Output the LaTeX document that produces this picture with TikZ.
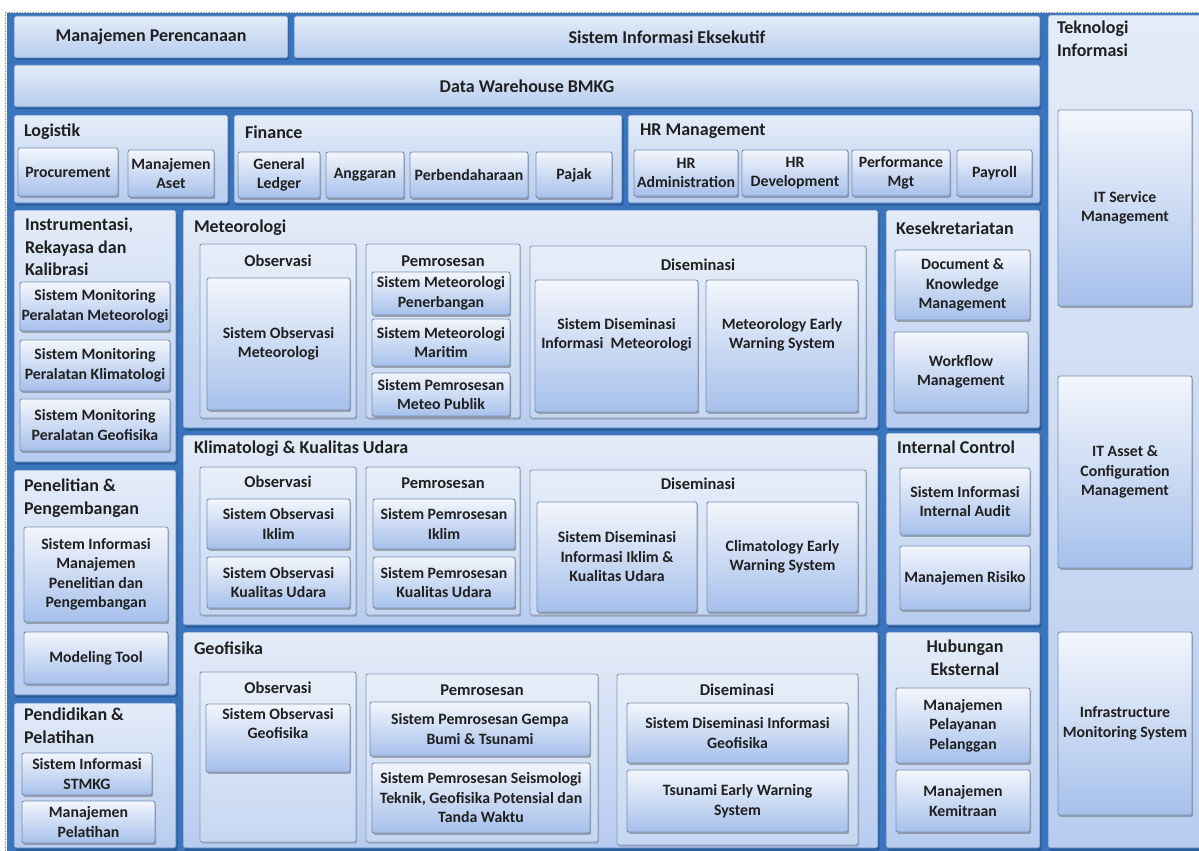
\documentclass[tikz,border=0pt]{standalone}
\usepackage{fontspec}
\setmainfont{Carlito}
\usetikzlibrary{shadows}

\definecolor{frameblue}{HTML}{3A74BD}
\definecolor{shadowblue}{HTML}{22508C}
\definecolor{panelline}{HTML}{4D7DBB}
\definecolor{paneltop}{HTML}{E4ECF8}
\definecolor{panelbot}{HTML}{B7CCEF}
\definecolor{boxline}{HTML}{7990B4}
\definecolor{boxtop}{HTML}{F3F6FC}
\definecolor{boxbot}{HTML}{A6C0EB}
\definecolor{grptop}{HTML}{E7EEF9}
\definecolor{grpbot}{HTML}{C6D7F2}
\definecolor{grpline}{HTML}{8699B8}
\definecolor{txt}{HTML}{202020}

\tikzset{
  base/.style={inner sep=0pt, outer sep=0pt, align=center, text=txt, rounded corners=2pt},
  topbar/.style={base, draw=panelline, line width=0.8pt, top color=paneltop, bottom color=panelbot,
    font=\bfseries\fontsize{18}{22}\selectfont,
    drop shadow={shadow xshift=1.2pt, shadow yshift=-2pt, fill=shadowblue, opacity=.7}},
  panel/.style={base, draw=panelline, line width=0.8pt, top color=paneltop, bottom color=panelbot,
    drop shadow={shadow xshift=1.5pt, shadow yshift=-2.5pt, fill=shadowblue, opacity=.7}},
  grp/.style={base, draw=grpline, line width=0.9pt, top color=grptop, bottom color=grpbot,
    drop shadow={shadow xshift=1pt, shadow yshift=-1.5pt, fill=black!55, opacity=.45}},
  sub/.style={base, draw=boxline, line width=0.9pt, top color=boxtop, bottom color=boxbot,
    font=\bfseries\fontsize{15.8}{19.5}\selectfont,
    drop shadow={shadow xshift=1.2pt, shadow yshift=-1.8pt, fill=black!60, opacity=.5}},
  ttl/.style={inner sep=0pt, outer sep=0pt, text=txt, align=left, font=\bfseries\fontsize{18}{22.5}\selectfont},
  gttl/.style={inner sep=0pt, outer sep=0pt, text=txt, align=center, font=\bfseries\fontsize{16.5}{20}\selectfont},
  stxt/.style={inner sep=0pt, outer sep=0pt, text=txt, align=center, font=\bfseries\fontsize{15.8}{19.5}\selectfont},
}

% box from (x1,y1) to (x2,y2): #1 style, #2 name, #3..#6 corners, #7 text
\newcommand\bx[7]{%
  \node[#1, minimum width={#5-#3}, minimum height={#6-#4}] (#2)
    at ({(#3+#5)/2},{(#4+#6)/2}) {#7};}

\begin{document}
\begin{tikzpicture}[x=1pt,y=-1pt]
\useasboundingbox (0,0) rectangle (1199,851);
\fill[white] (0,0) rectangle (1199,851);
\draw[black!35, densely dotted, line width=0.6pt] (5,851) -- (5,12) -- (1199,12);
\fill[frameblue] (7,13) rectangle (1199,851);

% top rows
\bx{topbar}{mp}{14}{16}{288}{58}{Manajemen Perencanaan}
\bx{topbar}{sie}{294}{16}{1040}{58}{Sistem Informasi Eksekutif}
\bx{topbar}{dw}{14}{65}{1040}{107}{Data Warehouse BMKG}

% domain panels
\bx{panel}{log}{14}{115}{228}{203}{}
\bx{panel}{fin}{234}{115}{622}{203}{}
\bx{panel}{hr}{628}{115}{1040}{203}{}
\bx{panel}{ti}{1048}{15}{1204}{848}{}
\bx{panel}{ins}{14}{210}{176}{462}{}
\bx{panel}{pen}{14}{470}{176}{695}{}
\bx{panel}{pdd}{14}{703}{176}{848}{}
\bx{panel}{met}{183}{210}{878}{428}{}
\bx{panel}{kli}{183}{435}{878}{625}{}
\bx{panel}{geo}{183}{632}{878}{848}{}
\bx{panel}{kes}{886}{210}{1040}{428}{}
\bx{panel}{ic}{886}{433}{1040}{625}{}
\bx{panel}{he}{886}{632}{1040}{848}{}

% panel titles
\node[ttl, anchor=west] (log-t) at (24,132) {Logistik};
\node[ttl, anchor=west] (fin-t) at (245,132) {Finance};
\node[ttl, anchor=west] (hr-t) at (640,131) {HR Management};
\node[ttl, anchor=north west] (ti-t) at (1057,21) {Teknologi\\Informasi};
\node[ttl, anchor=north west] (ins-t) at (25,218) {Instrumentasi,\\Rekayasa dan\\Kalibrasi};
\node[ttl, anchor=north west] (pen-t) at (24,479) {Penelitian \&\\Pengembangan};
\node[ttl, anchor=north west] (pdd-t) at (24,708) {Pendidikan \&\\Pelatihan};
\node[ttl, anchor=west] (met-t) at (194,228) {Meteorologi};
\node[ttl, anchor=west] (kli-t) at (194,449) {Klimatologi \& Kualitas Udara};
\node[ttl, anchor=west] (geo-t) at (194,648) {Geofisika};
\node[ttl, anchor=west] (kes-t) at (896,228) {Kesekretariatan};
\node[ttl, anchor=west] (ic-t) at (897,447) {Internal Control};
\node[ttl, anchor=north, align=center] (he-t) at (965,640) {Hubungan\\Eksternal};

% Logistik, Finance, HR
\bx{sub}{proc}{18}{148}{118}{196}{Procurement}
\bx{sub}{aset}{128}{150}{214}{197}{Manajemen\\Aset}
\bx{sub}{gl}{238}{152}{320}{198}{General\\Ledger}
\bx{sub}{ang}{326}{152}{404}{198}{Anggaran}
\bx{sub}{perb}{410}{152}{528}{198}{Perbendaharaan}
\bx{sub}{pajak}{536}{152}{612}{198}{Pajak}
\bx{sub}{hradm}{634}{150}{738}{196}{HR\\Administration}
\bx{sub}{hrdev}{742}{150}{848}{196}{HR\\Development}
\bx{sub}{perf}{852}{150}{950}{196}{Performance\\Mgt}
\bx{sub}{pay}{957}{150}{1032}{196}{Payroll}

% Teknologi Informasi
\bx{sub}{itsm}{1058}{110}{1192}{306}{IT Service\\Management}
\bx{sub}{itam}{1058}{376}{1192}{568}{IT Asset \&\\Configuration\\Management}
\bx{sub}{ims}{1058}{632}{1192}{815}{Infrastructure\\Monitoring System}

% Instrumentasi
\bx{sub}{smm}{20}{282}{170}{331}{Sistem Monitoring\\Peralatan Meteorologi}
\bx{sub}{smk}{20}{340}{170}{391}{Sistem Monitoring\\Peralatan Klimatologi}
\bx{sub}{smg}{20}{399}{170}{451}{Sistem Monitoring\\Peralatan Geofisika}

% Penelitian & Pengembangan
\bx{sub}{simp}{24}{527}{168}{622}{Sistem Informasi\\Manajemen\\Penelitian dan\\Pengembangan}
\bx{sub}{mod}{24}{632}{168}{684}{Modeling Tool}

% Pendidikan & Pelatihan
\bx{sub}{stmkg}{22}{753}{152}{795}{Sistem Informasi\\STMKG}
\bx{sub}{mpel}{22}{801}{155}{843}{Manajemen\\Pelatihan}

% Meteorologi
\bx{grp}{met-obs}{200}{244}{356}{418}{}
\bx{grp}{met-pro}{366}{244}{520}{418}{}
\bx{grp}{met-dis}{530}{246}{866}{418}{}
\node[gttl] (met-obs-t) at (278,261) {Observasi};
\node[gttl] (met-pro-t) at (443,261) {Pemrosesan};
\node[gttl] (met-dis-t) at (698,265) {Diseminasi};
\bx{sub}{som}{207}{278}{350}{410}{Sistem Observasi\\Meteorologi}
\bx{sub}{smp}{372}{272}{510}{315}{Sistem Meteorologi\\Penerbangan}
\bx{sub}{smmar}{372}{319}{510}{366}{Sistem Meteorologi\\Maritim}
\bx{sub}{spmp}{372}{373}{510}{416}{Sistem Pemrosesan\\Meteo Publik}
\bx{sub}{sdim}{535}{280}{698}{412}{Sistem Diseminasi\\Informasi~ Meteorologi\\[6pt]}
\bx{sub}{mews}{706}{280}{858}{412}{Meteorology Early\\Warning System\\[6pt]}

% Klimatologi & Kualitas Udara
\bx{grp}{kli-obs}{200}{467}{356}{615}{}
\bx{grp}{kli-pro}{366}{467}{520}{615}{}
\bx{grp}{kli-dis}{530}{470}{866}{615}{}
\node[gttl] (kli-obs-t) at (278,482) {Observasi};
\node[gttl] (kli-pro-t) at (443,483) {Pemrosesan};
\node[gttl] (kli-dis-t) at (698,484) {Diseminasi};
\bx{sub}{soi}{207}{499}{350}{549}{Sistem Observasi\\Iklim}
\bx{sub}{soku}{207}{557}{350}{608}{Sistem Observasi\\Kualitas Udara}
\bx{sub}{spi}{373}{499}{515}{549}{Sistem Pemrosesan\\Iklim}
\bx{sub}{spku}{373}{557}{515}{608}{Sistem Pemrosesan\\Kualitas Udara}
\bx{sub}{sdik}{537}{502}{697}{612}{Sistem Diseminasi\\Informasi Iklim \&\\Kualitas Udara}
\bx{sub}{cews}{707}{502}{858}{612}{Climatology Early\\Warning System}

% Geofisika
\bx{grp}{geo-obs}{200}{672}{356}{842}{}
\bx{grp}{geo-pro}{366}{674}{598}{842}{}
\bx{grp}{geo-dis}{617}{674}{858}{845}{}
\node[gttl] (geo-obs-t) at (278,688) {Observasi};
\node[gttl] (geo-pro-t) at (482,690) {Pemrosesan};
\node[gttl] (geo-dis-t) at (737,690) {Diseminasi};
\bx{sub}{sog}{206}{704}{350}{772}{}
\node[stxt, anchor=north] (sog-t) at (278,708) {Sistem Observasi\\Geofisika};
\bx{sub}{spgb}{370}{702}{590}{756}{Sistem Pemrosesan Gempa\\Bumi \& Tsunami}
\bx{sub}{spst}{372}{763}{590}{833}{Sistem Pemrosesan Seismologi\\Teknik, Geofisika Potensial dan\\Tanda Waktu}
\bx{sub}{sdig}{627}{703}{848}{763}{Sistem Diseminasi Informasi\\Geofisika}
\bx{sub}{tews}{627}{770}{848}{832}{Tsunami Early Warning\\System}

% Kesekretariatan
\bx{sub}{dkm}{895}{250}{1030}{320}{Document \&\\Knowledge\\Management}
\bx{sub}{wfm}{894}{332}{1028}{412}{Workflow\\Management}

% Internal Control
\bx{sub}{sia}{900}{468}{1030}{535}{Sistem Informasi\\Internal Audit}
\bx{sub}{mr}{900}{546}{1030}{610}{Manajemen Risiko}

% Hubungan Eksternal
\bx{sub}{mpp}{896}{688}{1030}{763}{Manajemen\\Pelayanan\\Pelanggan}
\bx{sub}{mk}{896}{770}{1030}{832}{Manajemen\\Kemitraan}
\end{tikzpicture}
\end{document}
